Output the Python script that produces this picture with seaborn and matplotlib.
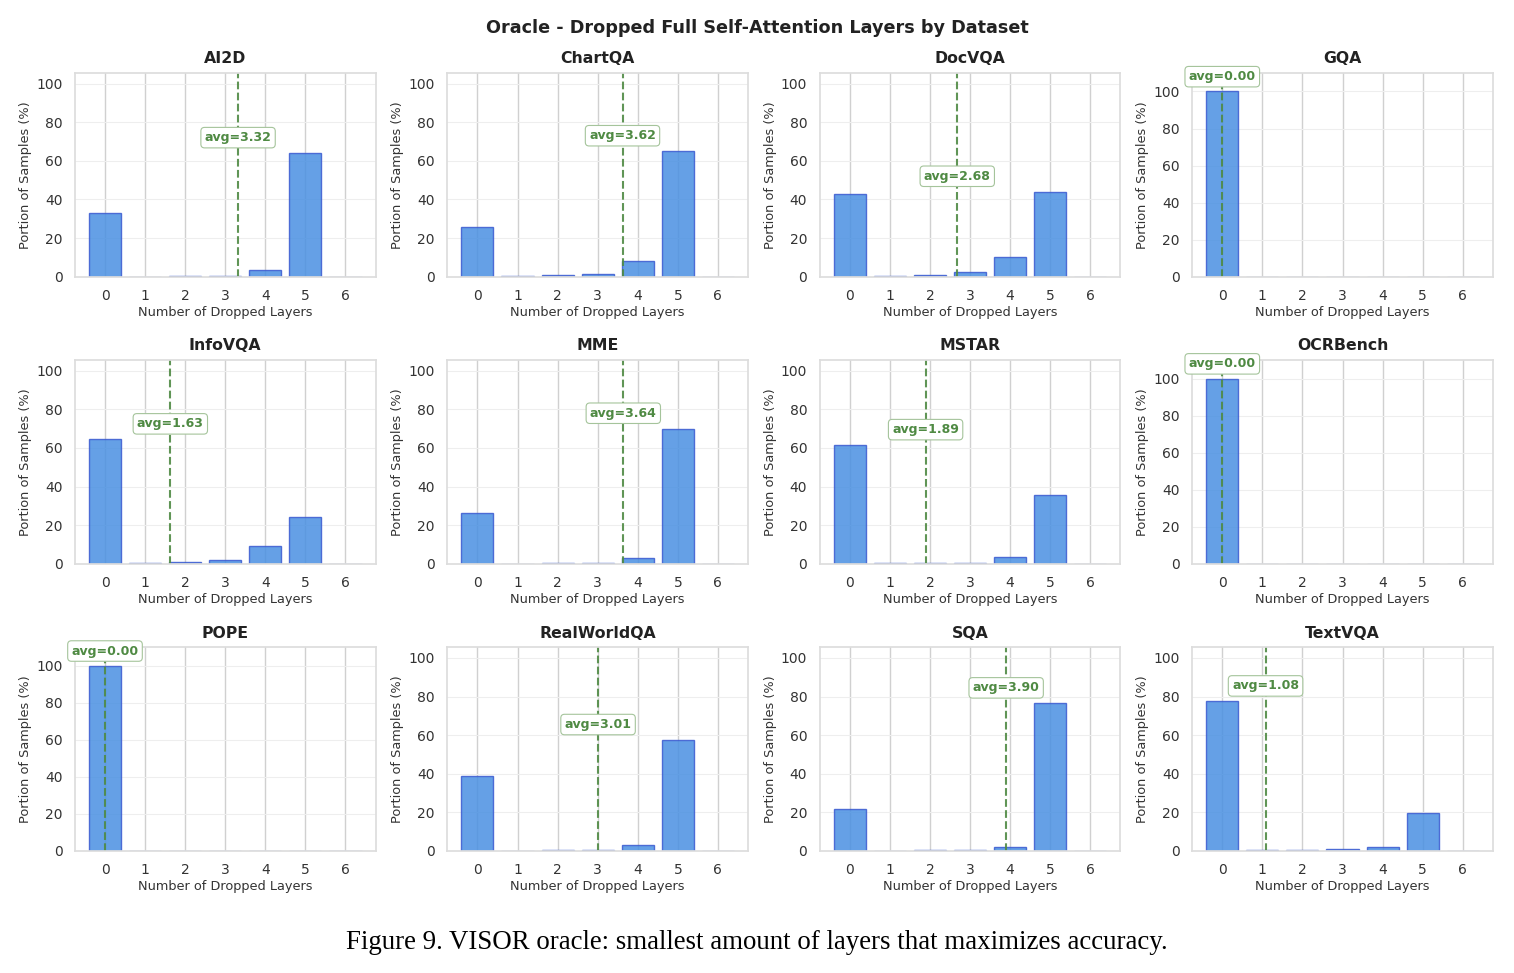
import numpy as np
import pandas as pd
import matplotlib
matplotlib.use("Agg")
import matplotlib.pyplot as plt
import seaborn as sns

# values (percent of samples per dropped-layer count)
layers = [0, 1, 2, 3, 4, 5, 6]
datasets = ["AI2D", "ChartQA", "DocVQA", "GQA",
            "InfoVQA", "MME", "MSTAR", "OCRBench",
            "POPE", "RealWorldQA", "SQA", "TextVQA"]

ai2d = [33.0, 0.0, 0.3, 0.5, 3.3, 64.0, 0.0]
chartqa = [25.5, 0.2, 0.8, 1.2, 8.0, 65.0, 0.0]
docvqa = [43.0, 0.4, 1.0, 2.2, 10.0, 44.0, 0.0]
gqa = [100.0, 0.0, 0.0, 0.0, 0.0, 0.0, 0.0]
infovqa = [64.5, 0.3, 1.0, 1.8, 9.0, 24.5, 0.0]
mme = [26.5, 0.0, 0.5, 0.5, 3.2, 70.0, 0.0]
mstar = [61.5, 0.3, 0.5, 0.5, 3.3, 35.5, 0.0]
ocrbench = [100.0, 0.0, 0.0, 0.0, 0.0, 0.0, 0.0]
pope = [100.0, 0.0, 0.0, 0.0, 0.0, 0.0, 0.0]
realworldqa = [39.0, 0.0, 0.5, 0.4, 3.3, 57.5, 0.0]
sqa = [21.5, 0.0, 0.3, 0.3, 2.2, 76.5, 0.0]
textvqa = [77.5, 0.3, 0.5, 1.0, 2.2, 19.5, 0.0]

averages = [3.32, 3.62, 2.68, 0.00, 1.63, 3.64, 1.89, 0.00, 0.00, 3.01, 3.90, 1.08]

series = [ai2d, chartqa, docvqa, gqa, infovqa, mme, mstar, ocrbench,
          pope, realworldqa, sqa, textvqa]

sns.set_theme(style="whitegrid")
plt.rcParams["font.family"] = ["DejaVu Sans"]

fig, axes = plt.subplots(3, 4, figsize=(15.14, 9.73), dpi=100)
fig.subplots_adjust(left=0.0495, right=0.986, top=0.925, bottom=0.1254,
                    wspace=0.239, hspace=0.41)

green = "#4f8a43"
for ax, name, vals, avg in zip(axes.flat, datasets, series, averages):
    df = pd.DataFrame({"layers": layers, "pct": vals})
    sns.barplot(data=df, x="layers", y="pct", ax=ax, color="#4a90e2",
                saturation=1, alpha=0.85, edgecolor="#3a5ad0", linewidth=1.0,
                width=0.8)
    ax.set_xlim(-0.75, 6.75)
    ymax = max(105.5, max(vals) * 1.1)
    ax.set_ylim(0, ymax)
    ax.set_yticks([0, 20, 40, 60, 80, 100])
    ax.xaxis.grid(True, color="#d0d0d0", linewidth=1.0)
    ax.yaxis.grid(True, color="#eeeeee", linewidth=0.8)
    ax.set_axisbelow(True)
    for s in ax.spines.values():
        s.set_color("#dddddd")
    ax.axvline(avg, color=green, linestyle="--", linewidth=1.5, alpha=0.9)
    ax.text(avg, max(vals) + 8, f"avg={avg:.2f}", ha="center", va="center",
            fontsize=9, fontweight="bold", color=green,
            bbox=dict(boxstyle="round,pad=0.3", facecolor="white",
                      edgecolor="#a5c49b", linewidth=0.8))
    ax.set_title(name, fontsize=11.3, fontweight="bold", color="#222222", pad=7)
    ax.set_xlabel("Number of Dropped Layers", fontsize=9.3, color="#333333", labelpad=2)
    ax.set_ylabel("Portion of Samples (%)", fontsize=9.3, color="#333333", labelpad=3)
    ax.tick_params(axis="both", labelsize=10, colors="#333333", pad=3)

fig.suptitle("Oracle - Dropped Full Self-Attention Layers by Dataset",
             fontsize=12.7, fontweight="bold", color="#222222", y=0.98)
fig.text(0.5, 0.031, "Figure 9. VISOR oracle: smallest amount of layers that maximizes accuracy.",
         ha="center", va="center", fontsize=19.4, family="Liberation Serif", color="black")

fig.savefig("out.png", dpi=100)
